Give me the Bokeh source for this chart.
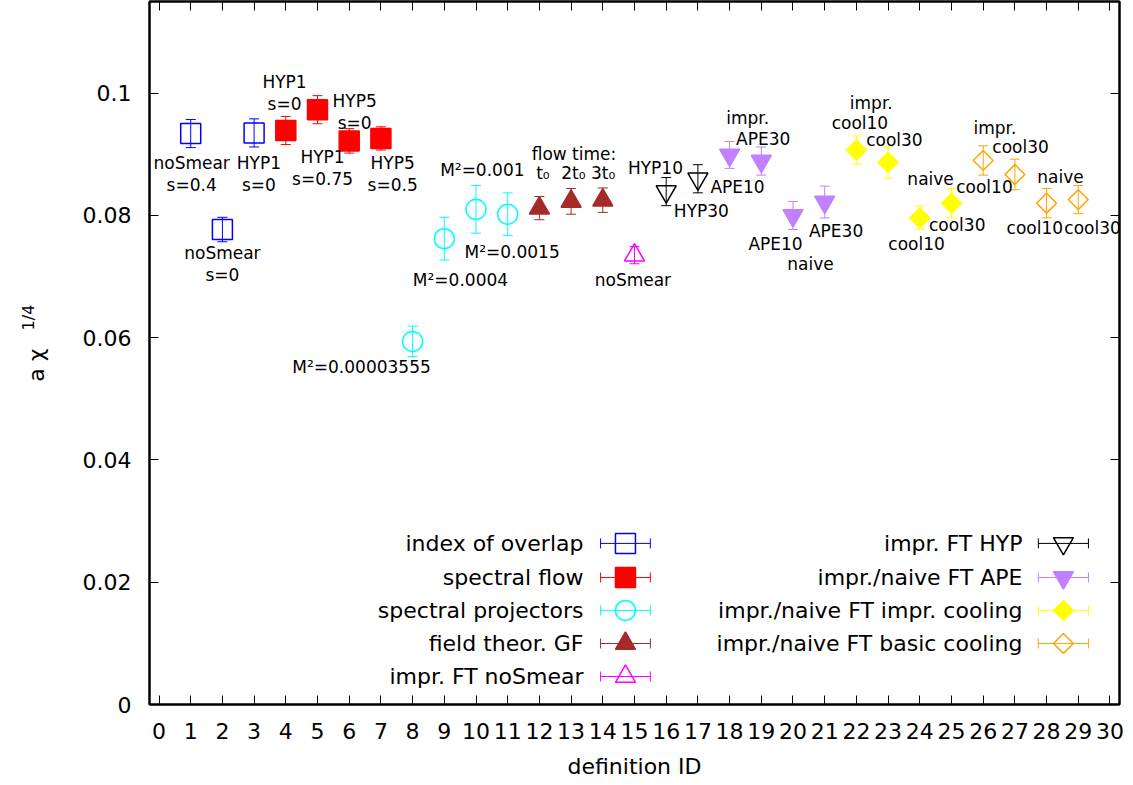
import math
from bokeh.plotting import figure
from bokeh.layouts import row
from bokeh.models import (ColumnDataSource, Whisker, TeeHead, LinearAxis,
                          FixedTicker, CustomJSTickFormatter, Range1d)
from bokeh.embed import file_html
from bokeh.resources import INLINE
from bokeh.core.properties import value

# ---------------- data ----------------
overlap_id = [1, 2, 3]
overlap_val = [0.0934, 0.0777, 0.0935]
overlap_err = [0.0023, 0.0020, 0.0023]

flow_id = [4, 5, 6, 7]
flow_val = [0.0939, 0.0973, 0.0922, 0.0926]
flow_err = [0.0023, 0.0023, 0.0020, 0.0019]

proj_id = [8, 9, 10, 11]
proj_val = [0.0594, 0.0762, 0.0810, 0.0802]
proj_err = [0.0025, 0.0035, 0.0039, 0.0035]

gf_id = [12, 13, 14]
gf_val = [0.0812, 0.0823, 0.0825]
gf_err = [0.0019, 0.0021, 0.0020]

nosmear_id = [15]
nosmear_val = [0.0735]
nosmear_err = [0.0014]

hyp_id = [16, 17]
hyp_val = [0.0839, 0.0860]
hyp_err = [0.0023, 0.0023]

ape_id = [18, 19, 20, 21]
ape_val = [0.0899, 0.0889, 0.0800, 0.0822]
ape_err = [0.0022, 0.0023, 0.0023, 0.0026]

icool_id = [22, 23, 24, 25]
icool_val = [0.0907, 0.0887, 0.0796, 0.0820]
icool_err = [0.0023, 0.0026, 0.0019, 0.0024]

bcool_id = [26, 27, 28, 29]
bcool_val = [0.0890, 0.0867, 0.0820, 0.0826]
bcool_err = [0.0024, 0.0025, 0.0024, 0.0023]

legend_names = ["index of overlap", "spectral flow", "spectral projectors",
                "field theor. GF", "impr. FT noSmear", "impr. FT HYP",
                "impr./naive FT APE", "impr./naive FT impr. cooling",
                "impr./naive FT basic cooling"]

x_ticks = list(range(0, 31))
y_ticks = [0, 0.02, 0.04, 0.06, 0.08, 0.1]

x_title = "definition ID"
y_title_main = "a \u03c7"
y_title_sup = "1/4"

# point annotations (text, x, y)
ann_text = ["noSmear\ns=0.4", "HYP1\ns=0", "noSmear\ns=0", "HYP1\ns=0", "HYP5\ns=0",
            "HYP1\ns=0.75", "HYP5\ns=0.5", "M\u00b2=0.001", "M\u00b2=0.0015", "M\u00b2=0.0004",
            "M\u00b2=0.00003555", "flow time:", "t\u2080", "2t\u2080", "3t\u2080", "noSmear",
            "HYP10", "HYP30", "APE10", "impr.", "APE30", "APE10", "naive", "APE30",
            "impr.", "cool10", "cool30", "naive", "cool10", "cool30",
            "impr.", "cool30", "cool10", "naive", "cool10", "cool30"]
ann_x = [1.03, 3.15, 2.0, 3.96, 6.17, 5.16, 7.37, 10.2, 11.14, 9.51,
         6.39, 13.09, 12.11, 13.07, 14.01, 14.95,
         15.66, 17.11, 18.25, 18.57, 19.06, 19.45, 20.55, 21.36,
         22.47, 22.11, 23.20, 24.34, 23.90, 25.18,
         26.37, 27.18, 26.04, 28.44, 27.63, 29.45]
ann_y = [0.0868, 0.0868, 0.0720, 0.1000, 0.0969, 0.0877, 0.0868, 0.0874, 0.0740, 0.0694,
         0.0552, 0.0901, 0.0869, 0.0869, 0.0869, 0.0695,
         0.0878, 0.0807, 0.0846, 0.0959, 0.0925, 0.0753, 0.0721, 0.0774,
         0.0984, 0.0951, 0.0924, 0.0860, 0.0754, 0.0784,
         0.0943, 0.0912, 0.0846, 0.0863, 0.0779, 0.0779]

# ---------------- styles ----------------
FONT = "DejaVu Sans"
series = [
    (overlap_id, overlap_val, overlap_err, dict(marker="square", color="#0000ff", fill=False, size=20, angle=0)),
    (flow_id, flow_val, flow_err, dict(marker="square", color="#ff0000", fill=True, size=20, angle=0)),
    (proj_id, proj_val, proj_err, dict(marker="circle", color="#00ffff", fill=False, size=20, angle=0)),
    (gf_id, gf_val, gf_err, dict(marker="triangle", color="#a52a2a", fill=True, size=20, angle=0)),
    (nosmear_id, nosmear_val, nosmear_err, dict(marker="triangle", color="#ff00ff", fill=False, size=20, angle=0)),
    (hyp_id, hyp_val, hyp_err, dict(marker="inverted_triangle", color="#000000", fill=False, size=20, angle=0)),
    (ape_id, ape_val, ape_err, dict(marker="inverted_triangle", color="#c080ff", fill=True, size=20, angle=0)),
    (icool_id, icool_val, icool_err, dict(marker="square", color="#ffff00", fill=True, size=14, angle=math.pi / 4)),
    (bcool_id, bcool_val, bcool_err, dict(marker="square", color="#ffa500", fill=False, size=14, angle=math.pi / 4)),
]

X0, X1 = -0.3, 30.3
Y0, Y1 = 0.0, 0.115
TITLE_W = 60          # width of the strip holding the y title
FRAME_TOP = 1
FRAME_H = 703
BOTTOM_B = 81

# ---------------- y-title strip: same vertical frame and range as the main plot ----------------
ttl = figure(frame_width=TITLE_W, frame_height=FRAME_H, x_range=Range1d(0, TITLE_W), y_range=Range1d(Y0, Y1),
             output_backend="svg", toolbar_location=None, x_axis_type=None, y_axis_type=None,
             min_border_left=0, min_border_right=0, min_border_top=FRAME_TOP, min_border_bottom=BOTTOM_B,
             outline_line_color=None, background_fill_color="white", border_fill_color="white")
ttl.text(x=[36], y=[0.0555], text=[y_title_main], angle=math.pi / 2,
         text_align="center", text_baseline="middle",
         text_font=value(FONT), text_font_size="22px", text_color="black")
ttl.text(x=[28], y=[0.0633], text=[y_title_sup], angle=math.pi / 2,
         text_align="center", text_baseline="middle",
         text_font=value(FONT), text_font_size="16px", text_color="black")

# ---------------- main plot ----------------
p = figure(frame_width=970, frame_height=FRAME_H,
           x_range=Range1d(X0, X1), y_range=Range1d(Y0, Y1),
           output_backend="svg", toolbar_location=None,
           min_border_left=149 - TITLE_W, min_border_right=14, min_border_top=FRAME_TOP,
           min_border_bottom=BOTTOM_B,
           background_fill_color="white", border_fill_color="white")
p.xgrid.visible = False
p.ygrid.visible = False
p.outline_line_color = "black"
p.outline_line_width = 2


def style_axis(ax, ticks, show_labels):
    ax.ticker = FixedTicker(ticks=ticks)
    ax.major_tick_in = 9
    ax.major_tick_out = 0
    ax.major_tick_line_color = "black"
    ax.major_tick_line_width = 1
    ax.minor_tick_line_color = None
    ax.axis_line_color = "black"
    ax.axis_line_width = 2
    if show_labels:
        ax.major_label_text_font = FONT
        ax.major_label_text_font_size = "22px"
        ax.major_label_text_color = "black"
    else:
        ax.major_label_text_color = None
        ax.major_label_text_font_size = "1px"
        ax.major_label_standoff = 0


style_axis(p.xaxis[0], x_ticks, True)
p.xaxis[0].major_label_standoff = 18
p.xaxis[0].axis_label = x_title
p.xaxis[0].axis_label_text_font = FONT
p.xaxis[0].axis_label_text_font_size = "22px"
p.xaxis[0].axis_label_text_font_style = "normal"
p.xaxis[0].axis_label_text_color = "black"
p.xaxis[0].axis_label_standoff = 12

style_axis(p.yaxis[0], y_ticks, True)
p.yaxis[0].major_label_standoff = 18
p.yaxis[0].formatter = CustomJSTickFormatter(code="return Number(tick.toFixed(2)).toString();")

top_ax = LinearAxis()
style_axis(top_ax, x_ticks, False)
p.add_layout(top_ax, "above")
right_ax = LinearAxis()
style_axis(right_ax, y_ticks, False)
p.add_layout(right_ax, "right")


def draw_marker(src, st):
    kw = dict(marker=st["marker"], size=st["size"], angle=st["angle"],
              line_color=st["color"], line_width=1.5)
    kw["fill_color"] = st["color"] if st["fill"] else None
    p.scatter(x="x", y="y", source=src, **kw)


# data series with error bars
for ids, vals, errs, st in series:
    src = ColumnDataSource(dict(x=ids, y=vals,
                                lo=[v - e for v, e in zip(vals, errs)],
                                hi=[v + e for v, e in zip(vals, errs)]))
    w = Whisker(source=src, base="x", lower="lo", upper="hi", dimension="height",
                line_color=st["color"], line_width=1,
                lower_head=TeeHead(size=10, line_color=st["color"], line_width=1),
                upper_head=TeeHead(size=10, line_color=st["color"], line_width=1))
    p.add_layout(w)
    draw_marker(src, st)

# annotations
p.text(x=ann_x, y=ann_y, text=ann_text, text_align="center", text_baseline="middle",
       text_font=value(FONT), text_font_size="17px", text_color="black", text_line_height=1.1)

# key (two columns, label to the left of sample)
key_cols = [(13.39, 13.93, 15.50), (27.24, 27.74, 29.32)]   # text right edge, sample start, sample end
key_rows = [0.02635, 0.02078, 0.01539, 0.00998, 0.00458]
for i, (name, (ids, vals, errs, st)) in enumerate(zip(legend_names, series)):
    col = 0 if i < 5 else 1
    r = i if i < 5 else i - 5
    tx, sx0, sx1 = key_cols[col]
    ky = key_rows[r]
    p.text(x=[tx], y=[ky], text=[name], text_align="right", text_baseline="middle",
           text_font=value(FONT), text_font_size="22px", text_color="black")
    ksrc = ColumnDataSource(dict(x=[(sx0 + sx1) / 2], y=[ky], lo=[sx0], hi=[sx1]))
    kw = Whisker(source=ksrc, base="y", lower="lo", upper="hi", dimension="width",
                 line_color=st["color"], line_width=1,
                 lower_head=TeeHead(size=10, line_color=st["color"], line_width=1),
                 upper_head=TeeHead(size=10, line_color=st["color"], line_width=1))
    p.add_layout(kw)
    draw_marker(ksrc, st)

layout = row(ttl, p, spacing=0)
open("out.html", "w").write(file_html(layout, INLINE))
